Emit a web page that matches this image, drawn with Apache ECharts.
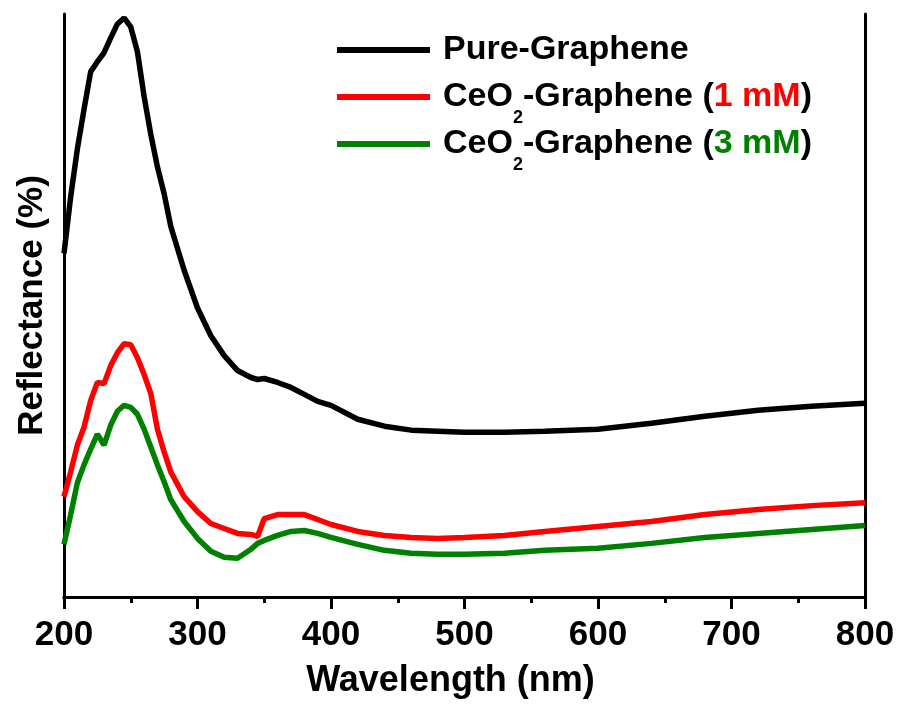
<!DOCTYPE html>
<html>
<head>
<meta charset="utf-8">
<script src="https://cdn.jsdelivr.net/npm/echarts@6/dist/echarts.min.js"></script>
<style>
  html, body { margin: 0; padding: 0; background: #fff; }
  #chartDom { width: 899px; height: 704px; }
</style>
</head>
<body>
<div id="chartDom"></div>
<script>
// wavelength grid (nm)
const wavelengths = [200, 205, 210, 215, 220, 225, 230, 235, 240, 245, 250, 255, 260, 265, 270, 275, 280,
  290, 300, 310, 320, 330, 340, 345, 350, 360, 370, 380, 390, 400,
  420, 440, 460, 480, 500, 530, 560, 600, 640, 680, 720, 760, 800];

// reflectance, arbitrary units
const pureGraphene = [346, 403, 451, 491, 529, 539, 548, 563, 577, 583, 574, 549, 504, 466, 433, 406, 373,
  329, 291, 263, 243, 228, 221, 219, 220, 216, 211, 204, 197, 193,
  179, 172, 168, 167, 166, 166, 167, 169, 175, 182, 188, 192, 195];
const ceo1mM = [101, 126, 153, 171, 198, 216, 215, 233, 246, 255, 254, 241, 224, 205, 169, 146, 126,
  101, 86, 74, 69, 64, 63, 61, 79, 83, 83, 83, 78, 73,
  66, 62, 60, 59, 60, 62, 66, 71, 76, 83, 88, 92, 95];
const ceo3mM = [53, 83, 115, 133, 149, 164, 153, 173, 187, 193, 191, 184, 169, 151, 133, 116, 98,
  76, 59, 46, 40, 39, 48, 54, 57, 62, 66, 67, 64, 60,
  53, 47, 44, 43, 43, 44, 47, 49, 54, 60, 64, 68, 72];

const seriesNames = ['Pure-Graphene', 'CeO2-Graphene (1 mM)', 'CeO2-Graphene (3 mM)'];
const seriesColors = ['#000000', '#ff0000', '#008000'];
const seriesData = [pureGraphene, ceo1mM, ceo3mM];

const fontFamily = '"Liberation Sans", Arial, sans-serif';

function pairs(values) {
  return wavelengths.map((w, i) => [w, values[i]]);
}

let myChart = echarts.init(document.getElementById('chartDom'));

let series = [];
for (let i = 0; i < seriesNames.length; i++) {
  series.push({
    name: seriesNames[i],
    type: 'line',
    showSymbol: false,
    symbol: 'none',
    lineStyle: { color: seriesColors[i], width: 5.5 },
    itemStyle: { color: seriesColors[i] },
    data: pairs(seriesData[i]),
    z: 3 - i
  });
}

const option = {
  animation: false,
  backgroundColor: '#fff',
  textStyle: { fontFamily: fontFamily },
  grid: { left: 64, right: 34, top: 14, bottom: 103 },
  legend: {
    orient: 'vertical',
    left: 337,
    top: 20,
    padding: 0,
    icon: 'rect',
    itemWidth: 93,
    itemHeight: 6,
    itemGap: -13,
    data: seriesNames,
    formatter: function (name) {
      if (name === 'Pure-Graphene') return '{s|}{b|Pure-Graphene}';
      const red = name.indexOf('1 mM') >= 0;
      return '{s|}{b|CeO}{sub|2}{b|-Graphene (}' + (red ? '{r|1 mM}' : '{g|3 mM}') + '{b|)}';
    },
    textStyle: {
      rich: {
        // spacer, padded like the subscript so every row has the same height
        s: { width: 8, fontSize: 18, lineHeight: 18, padding: [42, 0, 0, 0] },
        b: { fontSize: 34, fontWeight: 'bold', color: '#000', fontFamily: fontFamily },
        sub: { fontSize: 18, fontWeight: 'bold', color: '#000', fontFamily: fontFamily, lineHeight: 18, padding: [42, 0, 0, 0] },
        r: { fontSize: 34, fontWeight: 'bold', color: '#ff0000', fontFamily: fontFamily },
        g: { fontSize: 34, fontWeight: 'bold', color: '#008000', fontFamily: fontFamily }
      }
    }
  },
  xAxis: [
    {
      type: 'value',
      min: 200,
      max: 800,
      interval: 100,
      name: 'Wavelength (nm)',
      nameLocation: 'middle',
      nameGap: 66,
      nameTextStyle: { fontSize: 36, fontWeight: 'bold', color: '#000', fontFamily: fontFamily, padding: [0, 28, 0, 0] },
      axisLine: { show: true, lineStyle: { color: '#000', width: 3 } },
      axisTick: { show: true, inside: false, length: 12, lineStyle: { color: '#000', width: 3 } },
      minorTick: { show: true, splitNumber: 2, length: 6, lineStyle: { color: '#000', width: 3 } },
      axisLabel: { fontSize: 35, fontWeight: 'bold', color: '#000', margin: 21, fontFamily: fontFamily },
      splitLine: { show: false }
    },
    {
      type: 'value',
      position: 'top',
      min: 200,
      max: 800,
      axisLine: { show: true, lineStyle: { color: '#000', width: 3 } },
      axisTick: { show: false },
      axisLabel: { show: false },
      splitLine: { show: false }
    }
  ],
  yAxis: [
    {
      type: 'value',
      min: 0,
      max: 587,
      name: 'Reflectance (%)',
      nameLocation: 'middle',
      nameGap: 14,
      nameRotate: 90,
      nameTextStyle: { fontSize: 35, fontWeight: 'bold', color: '#000', fontFamily: fontFamily },
      axisLine: { show: true, lineStyle: { color: '#000', width: 3 } },
      axisTick: { show: false },
      axisLabel: { show: false },
      splitLine: { show: false }
    },
    {
      type: 'value',
      position: 'right',
      min: 0,
      max: 587,
      axisLine: { show: true, lineStyle: { color: '#000', width: 3 } },
      axisTick: { show: false },
      axisLabel: { show: false },
      splitLine: { show: false }
    }
  ],
  series
};

option && myChart.setOption(option);
</script>
</body>
</html>
